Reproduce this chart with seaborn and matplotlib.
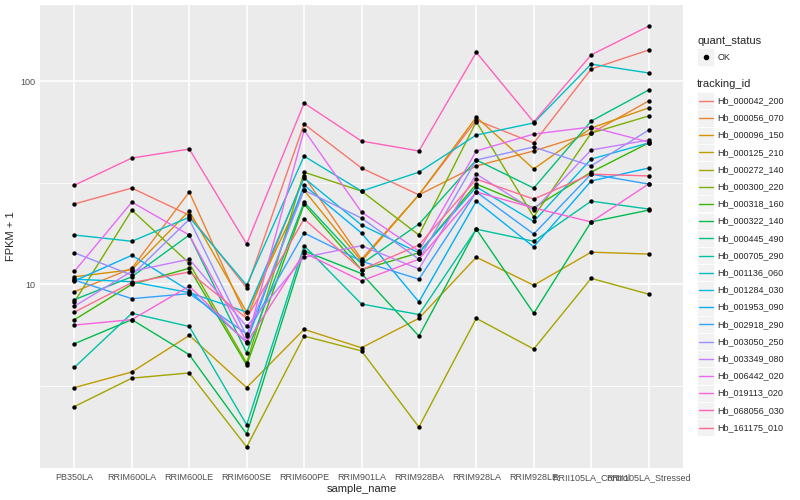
import numpy as np
import pandas as pd
import matplotlib
matplotlib.use("Agg")
import matplotlib.pyplot as plt
import seaborn as sns
from matplotlib.patches import Rectangle
from matplotlib.lines import Line2D
from matplotlib.ticker import NullFormatter

samples = ["PB350LA", "RRIM600LA", "RRIM600LE", "RRIM600SE", "RRIM600PE", "RRIM901LA",
           "RRIM928BA", "RRIM928LA", "RRIM928LE", "RRII105LA_Control", "RRII105LA_Stressed"]

gene_ids = ["Hb_000042_200", "Hb_000056_070", "Hb_000096_150", "Hb_000125_210",
            "Hb_000272_140", "Hb_000300_220", "Hb_000318_160", "Hb_000322_140",
            "Hb_000445_490", "Hb_000705_290", "Hb_001136_060", "Hb_001284_030",
            "Hb_001953_090", "Hb_002918_290", "Hb_003050_250", "Hb_003349_080",
            "Hb_006442_020", "Hb_019113_020", "Hb_068056_030", "Hb_161175_010"]

# FPKM + 1, one list per gene, in sample order
hb_000042_200 = [24.9, 29.8, 21.9, 9.6, 61.6, 37.4, 27.6, 64.4, 49.7, 115, 142.6]
hb_000056_070 = [9.2, 12.0, 28.5, 6.8, 34.1, 13.3, 27.6, 38.3, 45.4, 55.6, 80.0]
hb_000096_150 = [10.9, 11.8, 23.0, 7.3, 29.1, 13.0, 27.6, 66.7, 37.0, 58.9, 74.0]
hb_000125_210 = [3.1, 3.7, 5.6, 3.1, 6.0, 4.87, 6.8, 13.6, 9.9, 14.4, 14.1]
hb_000272_140 = [2.5, 3.45, 3.66, 1.58, 5.56, 4.7, 1.98, 6.8, 4.8, 10.7, 8.95]
hb_000300_220 = [8.2, 23.2, 12.7, 4.1, 35.7, 28.8, 17.5, 63.3, 21.5, 55.6, 67.5]
hb_000318_160 = [6.7, 10.0, 12.0, 4.0, 24.8, 11.8, 14.3, 31.2, 23.8, 35.7, 49.7]
hb_000322_140 = [5.1, 6.7, 4.5, 1.83, 14.6, 11.3, 5.56, 18.7, 7.2, 20.3, 23.2]
hb_000445_490 = [8.4, 10.9, 17.5, 4.6, 25.4, 12.6, 19.8, 41.0, 29.8, 63.7, 90.6]
hb_000705_290 = [3.9, 7.2, 6.2, 2.03, 15.5, 8.0, 7.1, 18.7, 16.3, 25.7, 23.5]
hb_001136_060 = [17.5, 16.3, 21.4, 9.9, 42.8, 28.8, 35.7, 54.4, 62.4, 121.6, 110]
hb_001284_030 = [10.6, 10.3, 9.1, 7.3, 33.4, 19.6, 14.3, 30.2, 20.4, 41.4, 49.7]
hb_001953_090 = [10.4, 13.9, 9.3, 5.2, 30.8, 17.9, 8.2, 25.7, 15.3, 32.3, 37.4]
hb_002918_290 = [10.5, 8.5, 9.0, 5.7, 17.9, 13.0, 10.6, 28.5, 17.7, 34.9, 31.2]
hb_003050_250 = [14.3, 11.1, 20.9, 5.56, 29.1, 21.2, 13.3, 41.0, 47.5, 38.3, 57.5]
hb_003349_080 = [7.8, 11.6, 13.3, 6.2, 13.6, 15.5, 11.9, 34.9, 23.2, 45.9, 51.4]
hb_006442_020 = [11.6, 25.4, 17.5, 5.2, 57.5, 22.7, 14.6, 45.4, 55.0, 59.6, 50.2]
hb_019113_020 = [6.3, 6.7, 9.8, 5.15, 14.3, 10.4, 13.3, 28.5, 23.8, 20.3, 31.2]
hb_068056_030 = [30.8, 41.9, 46.4, 15.8, 78.1, 50.8, 45.4, 139, 63.0, 135, 187]
hb_161175_010 = [7.3, 10.2, 11.5, 6.8, 21.0, 11.8, 15.6, 33.0, 26.3, 34.9, 34.2]

fpkm_lists = [hb_000042_200, hb_000056_070, hb_000096_150, hb_000125_210, hb_000272_140,
              hb_000300_220, hb_000318_160, hb_000322_140, hb_000445_490, hb_000705_290,
              hb_001136_060, hb_001284_030, hb_001953_090, hb_002918_290, hb_003050_250,
              hb_003349_080, hb_006442_020, hb_019113_020, hb_068056_030, hb_161175_010]

# ggplot default hue palette for 20 levels
hue_colors = ["#F8766D", "#EA8331", "#D89000", "#C09B00", "#A3A500", "#7CAE00", "#39B600",
              "#00BB4E", "#00BF7D", "#00C1A3", "#00BFC4", "#00BAE0", "#00B0F6", "#35A2FF",
              "#9590FF", "#C77CFF", "#E76BF3", "#FA62DB", "#FF62BC", "#FF6C91"]

rows = []
for gid, vals in zip(gene_ids, fpkm_lists):
    for s, v in zip(samples, vals):
        rows.append({"tracking_id": gid, "sample_name": s, "fpkm": v, "quant_status": "OK"})
df = pd.DataFrame(rows)

sns.set_theme(style="darkgrid")
plt.rcParams["font.family"] = ["Liberation Sans", "DejaVu Sans"]

W, H = 800, 500
fig = plt.figure(figsize=(8, 5), dpi=100)
ax = fig.add_axes([40 / W, 1 - 468 / H, (683 - 40) / W, (468 - 5) / H])
ax.set_facecolor("#EBEBEB")

palette = dict(zip(gene_ids, hue_colors))
sns.lineplot(data=df, x="sample_name", y="fpkm", hue="tracking_id", palette=palette,
             estimator=None, sort=False, legend=False, linewidth=1.0, ax=ax)
sns.scatterplot(data=df, x="sample_name", y="fpkm", color="black", s=10, linewidth=0,
                legend=False, ax=ax, zorder=3)

ax.set_yscale("log")
ax.set_ylim(1.245, 237.8)
ax.set_xlim(-0.6, len(samples) - 0.4)
ax.set_yticks([10, 100])
ax.set_yticklabels(["10", "100"])
ax.set_yticks([10 ** 0.5, 10 ** 1.5], minor=True)
ax.yaxis.set_minor_formatter(NullFormatter())

ax.grid(which="major", color="white", linewidth=1.1)
ax.grid(which="minor", axis="y", color="white", linewidth=0.55)
ax.set_axisbelow(True)
for sp in ax.spines.values():
    sp.set_visible(False)

ax.tick_params(which="major", length=2, width=0.8, color="#333333", labelsize=6.5,
               labelcolor="#4D4D4D", pad=1.5)
ax.tick_params(which="minor", length=0)
ax.set_xlabel("sample_name", fontsize=8, labelpad=1.5)
ax.set_ylabel("FPKM + 1", fontsize=8, labelpad=3)


def px(x, y):
    return x / W, 1 - y / H


# legend: quant_status
key = 17.2
kx = 697
fig.text(*px(kx, 41), "quant_status", fontsize=8, va="center", ha="left")
fig.add_artist(Rectangle(px(kx, 57 + key / 2), key / W, key / H, transform=fig.transFigure,
                         facecolor="#F2F2F2", edgecolor="white", linewidth=0.5))
fig.add_artist(Line2D([px(kx + key / 2, 57)[0]], [px(kx + key / 2, 57)[1]], marker="o",
                      markersize=3, color="black", linestyle="none", transform=fig.transFigure))
fig.text(*px(kx + key + 3, 57), "OK", fontsize=6.5, va="center", ha="left")

# legend: tracking_id
fig.text(*px(kx, 84), "tracking_id", fontsize=8, va="center", ha="left")
first = 100.7
for i, (gid, col) in enumerate(zip(gene_ids, hue_colors)):
    cy = first + i * key
    fig.add_artist(Rectangle(px(kx, cy + key / 2), key / W, key / H, transform=fig.transFigure,
                             facecolor="#F2F2F2", edgecolor="white", linewidth=0.5))
    x0, y0 = px(kx + 1.5, cy)
    x1, _ = px(kx + key - 1.5, cy)
    fig.add_artist(Line2D([x0, x1], [y0, y0], color=col, linewidth=1.0,
                          transform=fig.transFigure))
    fig.text(*px(kx + key + 3, cy), gid, fontsize=6.5, va="center", ha="left")

fig.savefig("out.png", dpi=100)
